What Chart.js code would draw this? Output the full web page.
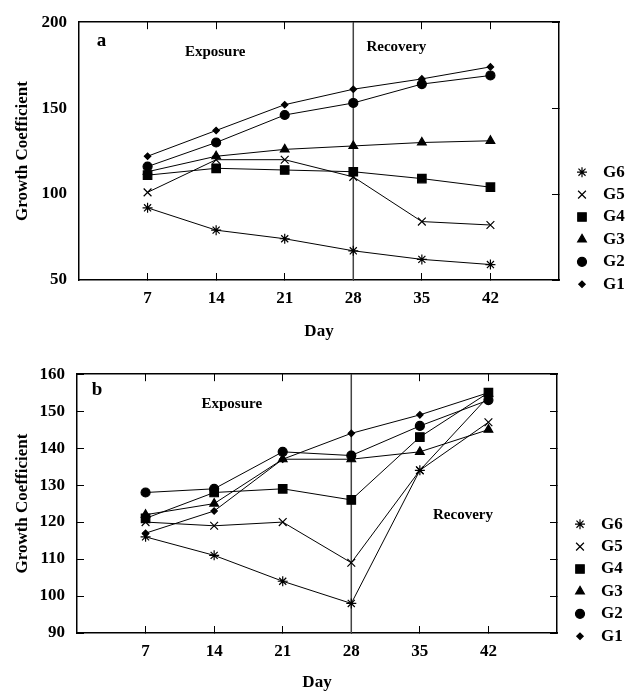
<!DOCTYPE html>
<html>
<head>
<meta charset="utf-8">
<script src="https://cdn.jsdelivr.net/npm/chart.js@4.4.0/dist/chart.umd.min.js"></script>
<style>
  body { margin: 0; background: #fff; }
  canvas { display: block; }
</style>
</head>
<body>
<canvas id="chartA" width="626" height="345"></canvas>
<canvas id="chartB" width="626" height="348"></canvas>
<script>
// Sampling days and groups
const days = [7, 14, 21, 28, 35, 42];
const groups = ['G1', 'G2', 'G3', 'G4', 'G5', 'G6'];
const recoveryStartDay = 28;

// Panel a values (G1..G6)
const aG1 = [122, 137, 152, 161, 167, 174];
const aG2 = [116, 130, 146, 153, 164, 169];
const aG3 = [113, 122, 126, 128, 130, 131];
const aG4 = [111, 115, 114, 113, 109, 104];
const aG5 = [101, 120, 120, 110, 84, 82];
const aG6 = [92, 79, 74, 67, 62, 59];

// Panel b values (G1..G6)
const bG1 = [117, 123, 137, 144, 149, 155];
const bG2 = [128, 129, 139, 138, 146, 153];
const bG3 = [122, 125, 137, 137, 139, 145];
const bG4 = [121, 128, 129, 126, 143, 155];
const bG5 = [120, 119, 120, 109, 134, 147];
const bG6 = [116, 111, 104, 98, 134, 154];

// y axis tick labels
const aYTicks = [50, 100, 150, 200];
const bYTicks = [90, 100, 110, 120, 130, 140, 150, 160];

Chart.defaults.font.family = "'Liberation Serif', 'DejaVu Serif', serif";
Chart.defaults.font.size = 17;
Chart.defaults.font.weight = 'bold';
Chart.defaults.color = '#000';

// Marker per group, same order as groups
const markers = [
    { pointStyle: 'rectRot', pointRadius: 3.2 },
    { pointStyle: 'circle', pointRadius: 4.5 },
    { pointStyle: 'triangle', pointRadius: 5 },
    { pointStyle: 'rect', pointRadius: 6 },
    { pointStyle: 'crossRot', pointRadius: 5.5 },
    { pointStyle: 'star', pointRadius: 5 }
];

// Vertical line between exposure and recovery
const phaseLine = {
    id: 'phaseLine',
    beforeDatasetsDraw(chart, args, opts) {
        const { ctx, chartArea, scales } = chart;
        const x = scales.x.getPixelForValue(opts.day);
        ctx.save();
        ctx.strokeStyle = opts.color;
        ctx.lineWidth = opts.width;
        ctx.beginPath();
        ctx.moveTo(x, chartArea.top);
        ctx.lineTo(x, chartArea.bottom);
        ctx.stroke();
        ctx.restore();
    }
};

// Text labels placed in data coordinates
const panelNotes = {
    id: 'panelNotes',
    afterDraw(chart, args, opts) {
        const { ctx, scales } = chart;
        ctx.save();
        ctx.fillStyle = '#000';
        ctx.textBaseline = 'middle';
        opts.items.forEach(n => {
            ctx.font = n.font;
            ctx.textAlign = n.align || 'center';
            ctx.fillText(n.text, scales.x.getPixelForValue(n.x), scales.y.getPixelForValue(n.y));
        });
        ctx.restore();
    }
};

// Legend at the right, G6 on top
const sideLegend = {
    id: 'sideLegend',
    afterDraw(chart, args, opts) {
        const { ctx, chartArea } = chart;
        const items = chart.data.datasets.slice().reverse();
        ctx.save();
        ctx.font = opts.font;
        ctx.textBaseline = 'middle';
        ctx.textAlign = 'left';
        ctx.fillStyle = '#000';
        ctx.strokeStyle = '#000';
        ctx.lineWidth = 1.2;
        items.forEach((ds, i) => {
            const y = chartArea.top + opts.top + i * opts.spacing;
            const x = chartArea.right + opts.markerX;
            Chart.helpers.drawPoint(ctx, {
                pointStyle: ds.pointStyle,
                radius: ds.pointRadius,
                borderWidth: 1.2,
                rotation: 0
            }, x, y);
            ctx.fillText(ds.label, chartArea.right + opts.textX, y);
        });
        ctx.restore();
    }
};

const setDayTicks = scale => { scale.ticks = days.map(v => ({ value: v })); };
const frame = { color: '#000', width: 1.5 };

const makePanel = (canvasId, series, yMin, yMax, yTicks, leftTicks, sizes, notes) => {
    const setYTicks = scale => { scale.ticks = yTicks.map(v => ({ value: v })); };
    return new Chart(document.getElementById(canvasId), {
        type: 'line',
        data: {
            datasets: groups.map((g, i) => ({
                label: g,
                data: days.map((d, j) => ({ x: d, y: series[i][j] })),
                borderColor: '#000',
                backgroundColor: '#000',
                borderWidth: 1,
                pointBorderWidth: 1.2,
                pointStyle: markers[i].pointStyle,
                pointRadius: markers[i].pointRadius,
                tension: 0
            }))
        },
        options: {
            responsive: false,
            animation: false,
            layout: { padding: { top: sizes.top, right: sizes.right, left: 0, bottom: 0 } },
            scales: {
                x: {
                    type: 'linear', min: 0, max: 49,
                    afterBuildTicks: setDayTicks,
                    ticks: { padding: 15 },
                    grid: { drawOnChartArea: false, tickLength: -7, color: '#000' },
                    border: frame,
                    title: { display: true, text: 'Day', padding: { top: 0, bottom: sizes.dayPad } },
                    afterFit: s => { s.height = sizes.xHeight; }
                },
                x2: {
                    type: 'linear', position: 'top', min: 0, max: 49,
                    afterBuildTicks: setDayTicks,
                    ticks: { display: false },
                    grid: { drawOnChartArea: false, tickLength: -7, color: '#000' },
                    border: frame,
                    afterFit: s => { s.height = 0; }
                },
                y: {
                    min: yMin, max: yMax,
                    afterBuildTicks: setYTicks,
                    ticks: { padding: leftTicks ? 19 : 12 },
                    grid: { drawOnChartArea: false, drawTicks: leftTicks, tickLength: -7, color: '#000' },
                    border: frame,
                    title: { display: true, text: 'Growth Coefficient', padding: { top: 12, bottom: 0 } },
                    afterFit: s => { s.width = sizes.yWidth; }
                },
                y2: {
                    position: 'right', min: yMin, max: yMax,
                    afterBuildTicks: setYTicks,
                    ticks: { display: false },
                    grid: { drawOnChartArea: false, tickLength: -7, color: '#000' },
                    border: frame,
                    afterFit: s => { s.width = 0; }
                }
            },
            plugins: {
                legend: { display: false },
                tooltip: { enabled: false },
                phaseLine: { day: recoveryStartDay, color: '#444', width: 1.5 },
                panelNotes: { items: notes },
                sideLegend: { font: "bold 17px 'Liberation Serif', serif", top: 150, spacing: 22.4, markerX: 23, textX: 44 }
            }
        },
        plugins: [phaseLine, panelNotes, sideLegend]
    });
};

const noteFont = "bold 15px 'Liberation Serif', serif";
const letterFont = "bold 19px 'Liberation Serif', serif";

makePanel('chartA', [aG1, aG2, aG3, aG4, aG5, aG6], 50, 200, aYTicks, false,
    { top: 13, right: 67, yWidth: 79, xHeight: 65, dayPad: 3 },
    [
        { text: 'a', x: 1.8, y: 189, font: letterFont, align: 'left' },
        { text: 'Exposure', x: 13.9, y: 182.5, font: noteFont },
        { text: 'Recovery', x: 32.4, y: 185.3, font: noteFont }
    ]);

makePanel('chartB', [bG1, bG2, bG3, bG4, bG5, bG6], 90, 160, bYTicks, true,
    { top: 22, right: 69, yWidth: 77, xHeight: 60, dayPad: 0 },
    [
        { text: 'b', x: 1.5, y: 155.7, font: letterFont, align: 'left' },
        { text: 'Exposure', x: 15.8, y: 151.8, font: noteFont },
        { text: 'Recovery', x: 39.4, y: 121.8, font: noteFont }
    ]);
</script>
</body>
</html>
